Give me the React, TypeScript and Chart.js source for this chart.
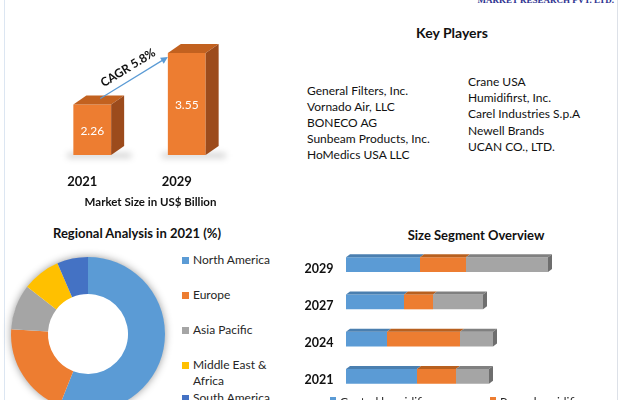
import React, { useEffect, useRef } from 'react';
import { Chart, registerables } from 'chart.js';

Chart.register(...registerables);

// ---------- data ----------
const marketYears = ['2021', '2029'];
const marketValues = [2.26, 3.55];
const cagrLabel = 'CAGR 5.8%';
const marketCaption = 'Market Size in US$ Billion';

const regionNames = ['North America', 'Europe', 'Asia Pacific', 'Middle East & Africa', 'South America'];
const regionLegendLines = [['North America'], ['Europe'], ['Asia Pacific'], ['Middle East &', 'Africa'], ['South America']];
const regionShares = [56, 20, 9.5, 8, 6.5];
const regionColors = ['#5B9BD5', '#ED7D31', '#A5A5A5', '#FFC000', '#4472C4'];

const segmentYears = ['2029', '2027', '2024', '2021'];
const centralValues = [74, 58, 41, 71];
const roomValues = [46, 29, 73, 39];
const portableValues = [82, 50, 33, 33];
const segmentNames = ['Central humidifiers', 'Room humidifiers', 'Portable humidifiers'];
const segmentColors = ['#5B9BD5', '#ED7D31', '#A5A5A5'];
const segmentTopColors = ['#4A7FB0', '#B8601F', '#808080'];

const playersLeft = ['General Filters, Inc.', 'Vornado Air, LLC', 'BONECO AG', 'Sunbeam Products, Inc.', 'HoMedics USA LLC'];
const playersRight = ['Crane USA', 'Humidifirst, Inc.', 'Carel Industries S.p.A', 'Newell Brands', 'UCAN CO., LTD.'];

const FONT = 'Lato, "Open Sans", sans-serif';

// ---------- market size 3D column chart ----------
function MarketChart() {
  const ref = useRef<HTMLCanvasElement>(null);
  useEffect(() => {
    const plugin = {
      id: 'bar3d',
      beforeDatasetsDraw(chart: any) {
        const ctx = chart.ctx;
        const meta = chart.getDatasetMeta(0);
        const bottom = chart.chartArea.bottom;
        meta.data.forEach((bar: any) => {
          const { x, width } = bar.getProps(['x', 'width'], true);
          ctx.save();
          ctx.filter = 'blur(3px)';
          ctx.fillStyle = 'rgba(0,0,0,0.18)';
          ctx.fillRect(x - width / 2 - 6, bottom - 2, width + 26, 5);
          ctx.restore();
        });
      },
      afterDatasetsDraw(chart: any) {
        const ctx = chart.ctx;
        const meta = chart.getDatasetMeta(0);
        const dx = 13, dy = 9;
        const pts: any[] = [];
        meta.data.forEach((bar: any, i: number) => {
          const { x, y, base: rawBase, width } = bar.getProps(['x', 'y', 'base', 'width'], true);
          const base = Math.min(rawBase, chart.chartArea.bottom);
          const l = x - width / 2, r = x + width / 2;
          pts.push({ x, y, l, r, base });
          ctx.save();
          ctx.fillStyle = '#C2611F';
          ctx.beginPath();
          ctx.moveTo(l, y); ctx.lineTo(r, y); ctx.lineTo(r + dx, y - dy); ctx.lineTo(l + dx, y - dy);
          ctx.closePath(); ctx.fill();
          ctx.fillStyle = '#9C4B1C';
          ctx.beginPath();
          ctx.moveTo(r, y); ctx.lineTo(r + dx, y - dy); ctx.lineTo(r + dx, base - dy); ctx.lineTo(r, base);
          ctx.closePath(); ctx.fill();
          ctx.fillStyle = '#FFFFFF';
          ctx.font = `12px ${FONT}`;
          ctx.textAlign = 'center';
          ctx.textBaseline = 'middle';
          ctx.fillText(marketValues[i].toFixed(2), x, (y + base) / 2 + 1);
          ctx.fillStyle = '#111111';
          ctx.font = `bold 13px ${FONT}`;
          ctx.fillText(marketYears[i], x - 10, base + 27);
          ctx.restore();
        });
        if (pts.length === 2) {
          const x0 = pts[0].x + 8, y0 = pts[0].y - 6;
          const x1 = pts[1].l, y1 = pts[1].y + 4;
          const ang = Math.atan2(y1 - y0, x1 - x0);
          ctx.save();
          ctx.strokeStyle = '#5B9BD5';
          ctx.fillStyle = '#5B9BD5';
          ctx.lineWidth = 1.2;
          ctx.beginPath();
          ctx.moveTo(x0, y0);
          ctx.lineTo(x1 - 5 * Math.cos(ang), y1 - 5 * Math.sin(ang));
          ctx.stroke();
          ctx.beginPath();
          ctx.moveTo(x1, y1);
          ctx.lineTo(x1 - 7 * Math.cos(ang) + 3.5 * Math.sin(ang), y1 - 7 * Math.sin(ang) - 3.5 * Math.cos(ang));
          ctx.lineTo(x1 - 7 * Math.cos(ang) - 3.5 * Math.sin(ang), y1 - 7 * Math.sin(ang) + 3.5 * Math.cos(ang));
          ctx.closePath(); ctx.fill();
          const mx = (x0 + x1) / 2 - 6, my = (y0 + y1) / 2 - 10;
          ctx.translate(mx, my);
          ctx.rotate(ang);
          ctx.fillStyle = '#111111';
          ctx.font = `bold 12px ${FONT}`;
          ctx.textAlign = 'center';
          ctx.textBaseline = 'middle';
          ctx.fillText(cagrLabel, 0, 0);
          ctx.restore();
          ctx.save();
          ctx.fillStyle = '#111111';
          ctx.font = `bold 11.5px ${FONT}`;
          ctx.textAlign = 'center';
          ctx.textBaseline = 'middle';
          ctx.fillText(marketCaption, (pts[0].x + pts[1].x) / 2 + 11, pts[0].base + 47);
          ctx.restore();
        }
      },
    };
    const chart = new Chart(ref.current!, {
      type: 'bar',
      data: {
        labels: marketYears,
        datasets: [{
          data: marketValues,
          backgroundColor: '#ED7D31',
          borderWidth: 0,
          barPercentage: 0.4,
          categoryPercentage: 1,
        }],
      },
      options: {
        responsive: false,
        animation: false,
        devicePixelRatio: 1,
        layout: { padding: { left: 45, right: 66, top: 35, bottom: 60 } },
        scales: {
          x: { display: false },
          y: { display: false, min: 1, max: 4 },
        },
        plugins: { legend: { display: false }, tooltip: { enabled: false } },
      },
      plugins: [plugin],
    });
    return () => chart.destroy();
  }, []);
  return <canvas ref={ref} width={300} height={215} style={{ position: 'absolute', left: 0, top: 0, width: 300, height: 215 }} />;
}

// ---------- regional doughnut ----------
function RegionChart() {
  const ref = useRef<HTMLCanvasElement>(null);
  useEffect(() => {
    const shadow = {
      id: 'ringShadow',
      beforeDatasetsDraw(chart: any) {
        const arc = chart.getDatasetMeta(0).data[0];
        if (!arc) return;
        const { x, y, outerRadius } = arc.getProps(['x', 'y', 'outerRadius'], true);
        const ctx = chart.ctx;
        ctx.save();
        ctx.shadowColor = 'rgba(0,0,0,0.45)';
        ctx.shadowBlur = 9;
        ctx.fillStyle = '#FFFFFF';
        ctx.beginPath();
        ctx.arc(x, y, outerRadius - 0.5, 0, Math.PI * 2);
        ctx.fill();
        ctx.restore();
      },
    };
    const chart = new Chart(ref.current!, {
      type: 'doughnut',
      data: {
        labels: regionNames,
        datasets: [{ data: regionShares, backgroundColor: regionColors, borderWidth: 0 }],
      },
      options: {
        responsive: false,
        animation: false,
        devicePixelRatio: 1,
        cutout: '52%',
        layout: { padding: 11 },
        plugins: { legend: { display: false }, tooltip: { enabled: false } },
      },
      plugins: [shadow],
    });
    return () => chart.destroy();
  }, []);
  return <canvas ref={ref} width={176} height={176} style={{ position: 'absolute', left: 0, top: 246, width: 176, height: 176 }} />;
}

// ---------- size segment stacked 3D bars ----------
function SegmentChart() {
  const ref = useRef<HTMLCanvasElement>(null);
  useEffect(() => {
    const plugin = {
      id: 'hbar3d',
      afterDatasetsDraw(chart: any) {
        const ctx = chart.ctx;
        const d = 4;
        const n = chart.data.datasets.length;
        for (let di = 0; di < n; di++) {
          const meta = chart.getDatasetMeta(di);
          meta.data.forEach((bar: any) => {
            const { x, y, base, height } = bar.getProps(['x', 'y', 'base', 'height'], true);
            const top = y - height / 2, bot = y + height / 2;
            ctx.save();
            ctx.fillStyle = segmentTopColors[di];
            ctx.beginPath();
            ctx.moveTo(base, top); ctx.lineTo(x, top); ctx.lineTo(x + d, top - 3); ctx.lineTo(base + d, top - 3);
            ctx.closePath(); ctx.fill();
            if (di === n - 1) {
              ctx.fillStyle = '#6E6E6E';
              ctx.beginPath();
              ctx.moveTo(x, top); ctx.lineTo(x + d, top - 3); ctx.lineTo(x + d, bot - 3); ctx.lineTo(x, bot);
              ctx.closePath(); ctx.fill();
            }
            ctx.restore();
          });
        }
        const meta0 = chart.getDatasetMeta(0);
        ctx.save();
        ctx.fillStyle = '#111111';
        ctx.font = `bold 12.5px ${FONT}`;
        ctx.textAlign = 'center';
        ctx.textBaseline = 'middle';
        meta0.data.forEach((bar: any, i: number) => {
          const { y } = bar.getProps(['y'], true);
          ctx.fillText(segmentYears[i], chart.chartArea.left - 27, y + 4);
        });
        ctx.restore();
      },
    };
    const series = [centralValues, roomValues, portableValues];
    const chart = new Chart(ref.current!, {
      type: 'bar',
      data: {
        labels: segmentYears,
        datasets: series.map((vals, i) => ({
          label: segmentNames[i],
          data: vals,
          backgroundColor: segmentColors[i],
          borderWidth: 0,
          barPercentage: 0.4,
          categoryPercentage: 1,
        })),
      },
      options: {
        indexAxis: 'y',
        responsive: false,
        animation: false,
        devicePixelRatio: 1,
        layout: { padding: { left: 56, right: 55, top: 6, bottom: 5 } },
        scales: {
          x: { display: false, stacked: true, min: 0, max: 220 },
          y: { display: false, stacked: true },
        },
        plugins: { legend: { display: false }, tooltip: { enabled: false } },
      },
      plugins: [plugin],
    });
    return () => chart.destroy();
  }, []);
  return <canvas ref={ref} width={331} height={160} style={{ position: 'absolute', left: 290, top: 240, width: 331, height: 160 }} />;
}

function Text(props: { x: number; y: number; children: any; bold?: boolean; size?: number; color?: string; center?: boolean; w?: number }) {
  const { x, y, bold, size = 12, color = '#111111', center, w = 200 } = props;
  return (
    <div style={{
      position: 'absolute', left: center ? x - w / 2 : x, top: y - 9, width: center ? w : undefined,
      height: 18, lineHeight: '18px', fontSize: size, fontWeight: bold ? 700 : 400,
      color, whiteSpace: 'nowrap', textAlign: center ? 'center' : 'left', fontFamily: FONT,
    }}>{props.children}</div>
  );
}

export default function App() {
  const legendY = [260, 295, 330, 365, 398];
  return (
    <div style={{ position: 'fixed', left: 0, top: 0, width: 621, height: 400, overflow: 'hidden', background: '#FFFFFF', fontFamily: FONT }}>
      <div style={{ position: 'absolute', left: 4, top: 0, width: 1, height: 400, background: '#DCE6F2' }} />
      <div style={{ position: 'absolute', left: 617, top: 0, width: 1, height: 400, background: '#DDE1E8' }} />
      <div style={{ position: 'absolute', left: 470, top: -6, width: 144, height: 12, lineHeight: '12px', fontSize: 9, fontWeight: 700, fontFamily: '"Liberation Serif", serif', color: '#2E3290', whiteSpace: 'nowrap', textAlign: 'right' }}>MARKET RESEARCH PVT. LTD.</div>

      <MarketChart />

      <Text x={452} y={33} bold size={14} center>Key Players</Text>
      {playersLeft.map((p, i) => <Text key={p} x={307} y={91 + i * 16} size={12}>{p}</Text>)}
      {playersRight.map((p, i) => <Text key={p} x={468} y={82 + i * 16.2} size={12}>{p}</Text>)}

      <Text x={137} y={233} bold size={13} center w={260}>Regional Analysis in 2021 (%)</Text>
      <RegionChart />
      {regionLegendLines.map((lines, i) => (
        <React.Fragment key={i}>
          <div style={{ position: 'absolute', left: 182, top: legendY[i] - 3, width: 7, height: 7, background: regionColors[i] }} />
          {lines.map((ln, j) => <Text key={ln} x={193} y={legendY[i] + j * 16} size={12} color="#262626">{ln}</Text>)}
        </React.Fragment>
      ))}

      <Text x={476} y={235} bold size={13} center>Size Segment Overview</Text>
      <SegmentChart />
      {segmentNames.slice(0, 2).map((s, i) => (
        <React.Fragment key={s}>
          <div style={{ position: 'absolute', left: 330 + i * 160, top: 397, width: 6, height: 6, background: segmentColors[i] }} />
          <Text x={340 + i * 160} y={402} size={12} color="#262626">{s}</Text>
        </React.Fragment>
      ))}
    </div>
  );
}
